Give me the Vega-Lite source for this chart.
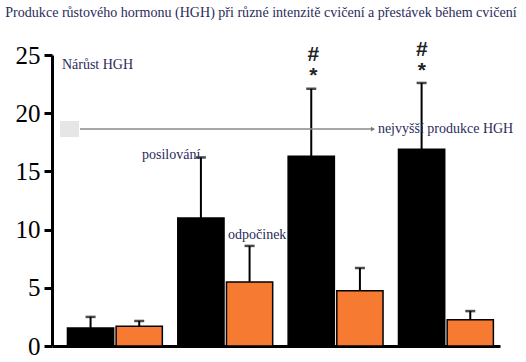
{
  "$schema": "https://vega.github.io/schema/vega-lite/v6.json",
  "width": 448,
  "height": 291,
  "autosize": {"type": "none"},
  "padding": {"left": 52, "top": 55, "right": 26, "bottom": 16},
  "background": "white",
  "config": {"view": {"stroke": null}, "font": "Liberation Serif"},
  "title": {
    "text": "Produkce růstového hormonu (HGH) při různé intenzitě cvičení a přestávek během cvičení",
    "font": "Liberation Serif",
    "fontSize": 14.05,
    "fontWeight": "normal",
    "color": "#2b2b5a",
    "anchor": "middle",
    "frame": "group",
    "dx": -15,
    "offset": 19
  },
  "layer": [
    {
      "data": {
        "values": [
          {"group": "1", "series": "posilování", "value": 1.55, "err": 2.5},
          {"group": "1", "series": "odpočinek", "value": 1.7, "err": 2.15},
          {"group": "2", "series": "posilování", "value": 11.0, "err": 16.2},
          {"group": "2", "series": "odpočinek", "value": 5.5, "err": 8.6},
          {"group": "3", "series": "posilování", "value": 16.3, "err": 22.1},
          {"group": "3", "series": "odpočinek", "value": 4.75, "err": 6.7},
          {"group": "4", "series": "posilování", "value": 16.9, "err": 22.6},
          {"group": "4", "series": "odpočinek", "value": 2.25, "err": 3.0}
        ]
      },
      "encoding": {
        "x": {
          "field": "group", "type": "nominal", "sort": ["1", "2", "3", "4"],
          "scale": {"paddingInner": 0.14, "paddingOuter": 0.1, "align": 0.7},
          "axis": {"title": null, "labels": false, "ticks": false, "domainWidth": 3, "domainColor": "black"}
        },
        "xOffset": {
          "field": "series", "type": "nominal", "sort": ["posilování", "odpočinek"],
          "scale": {"paddingInner": 0.05}
        }
      },
      "layer": [
        {
          "mark": {"type": "bar", "stroke": "black", "strokeWidth": 1.5},
          "encoding": {
            "y": {
              "field": "value", "type": "quantitative",
              "scale": {"domain": [0, 25], "nice": false},
              "axis": {
                "title": null, "grid": false, "values": [0, 5, 10, 15, 20, 25],
                "labelFont": "Liberation Serif", "labelFontSize": 25, "labelColor": "black",
                "labelPadding": 4, "tickSize": 8, "tickWidth": 3, "tickColor": "black",
                "domainWidth": 3, "domainColor": "black"
              }
            },
            "color": {
              "field": "series", "type": "nominal",
              "scale": {"domain": ["posilování", "odpočinek"], "range": ["black", "#F77A33"]},
              "legend": null
            }
          }
        },
        {
          "mark": {"type": "rule", "color": "black", "strokeWidth": 2},
          "encoding": {
            "y": {"field": "value", "type": "quantitative"},
            "y2": {"field": "err"}
          }
        },
        {
          "mark": {"type": "tick", "color": "black", "size": 10, "thickness": 2.5},
          "encoding": {
            "y": {"field": "err", "type": "quantitative"}
          }
        }
      ]
    },
    {
      "data": {
        "values": [
          {"x": 0.073, "x2": 0.245, "y": 19.33, "y2": 17.95}
        ]
      },
      "mark": {"type": "rect", "color": "#e6e6e6"},
      "encoding": {
        "x": {"field": "x", "type": "quantitative", "scale": {"domain": [0, 4.062], "nice": false, "zero": false}, "axis": null},
        "x2": {"field": "x2"},
        "y": {"field": "y", "type": "quantitative"},
        "y2": {"field": "y2"}
      }
    },
    {
      "data": {
        "values": [
          {"x": 0.254, "x2": 2.9, "y": 18.64}
        ]
      },
      "mark": {"type": "rule", "color": "#8a8a8a", "strokeWidth": 1.5},
      "encoding": {
        "x": {"field": "x", "type": "quantitative", "scale": {"domain": [0, 4.062], "nice": false, "zero": false}, "axis": null},
        "x2": {"field": "x2"},
        "y": {"field": "y", "type": "quantitative"}
      }
    },
    {
      "data": {
        "values": [
          {"x": 2.91, "y": 18.64}
        ]
      },
      "mark": {"type": "point", "shape": "triangle-right", "filled": true, "color": "#777777", "size": 22, "opacity": 1},
      "encoding": {
        "x": {"field": "x", "type": "quantitative", "scale": {"domain": [0, 4.062], "nice": false, "zero": false}, "axis": null},
        "y": {"field": "y", "type": "quantitative"}
      }
    },
    {
      "data": {
        "values": [
          {"x": 0.09, "y": 24.1, "label": "Nárůst HGH"},
          {"x": 0.816, "y": 16.4, "label": "posilování"},
          {"x": 1.596, "y": 9.54, "label": "odpočinek"},
          {"x": 2.955, "y": 18.64, "label": "nejvyšší produkce HGH"}
        ]
      },
      "mark": {"type": "text", "font": "Liberation Serif", "fontSize": 14, "color": "#2b2b5a", "align": "left", "baseline": "middle"},
      "encoding": {
        "x": {"field": "x", "type": "quantitative", "scale": {"domain": [0, 4.062], "nice": false, "zero": false}, "axis": null},
        "y": {"field": "y", "type": "quantitative"},
        "text": {"field": "label"}
      }
    },
    {
      "data": {
        "values": [
          {"x": 2.37, "y": 25.0, "label": ["#", "*"]},
          {"x": 3.354, "y": 25.45, "label": ["#", "*"]}
        ]
      },
      "mark": {"type": "text", "font": "Liberation Sans", "fontSize": 21, "fontWeight": "bold", "lineHeight": 21, "color": "#222222", "align": "center", "baseline": "middle"},
      "encoding": {
        "x": {"field": "x", "type": "quantitative", "scale": {"domain": [0, 4.062], "nice": false, "zero": false}, "axis": null},
        "y": {"field": "y", "type": "quantitative"},
        "text": {"field": "label"}
      }
    }
  ],
  "resolve": {"scale": {"x": "independent"}}
}
